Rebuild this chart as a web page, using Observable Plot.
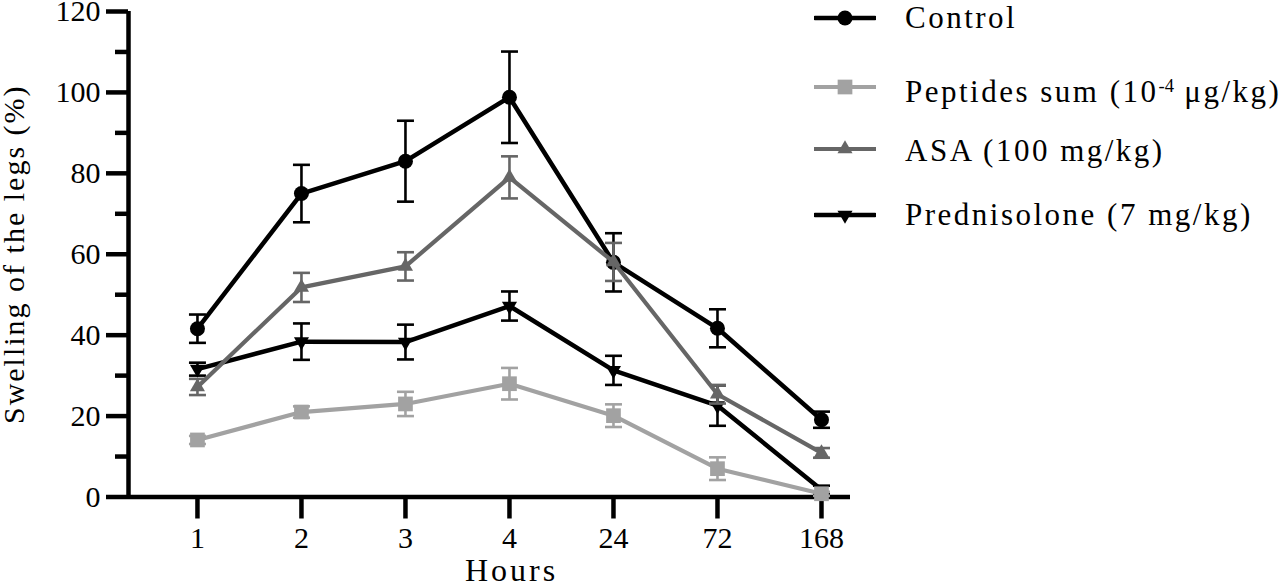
<!DOCTYPE html>
<html>
<head>
<meta charset="utf-8">
<script src="https://cdn.jsdelivr.net/npm/d3@7"></script>
<script src="https://cdn.jsdelivr.net/npm/@observablehq/plot@0.6"></script>
<style>
  html, body { margin: 0; padding: 0; background: #fff; }
  #wrap { position: relative; width: 1280px; height: 586px; overflow: hidden; font-family: "Liberation Serif", serif; }
  .leg-sw { position: absolute; }
  .leg-tx { position: absolute; font-size: 31px; line-height: 30px; letter-spacing: 2.5px; white-space: nowrap; color: #000; }
  .leg-tx sup { font-size: 0.6em; line-height: 0; vertical-align: 0.55em; letter-spacing: 0; }
</style>
</head>
<body>
<div id="wrap"></div>
<script>
// ---- data ----
const hours = ["1", "2", "3", "4", "24", "72", "168"];

const controlMean = [41.6, 75.0, 83.0, 98.8, 58.0, 41.7, 19.1];
const controlErr  = [3.5, 7.1, 10.0, 11.3, 7.2, 4.7, 2.0];

const peptidesMean = [14.1, 21.0, 23.0, 28.0, 20.1, 7.0, 0.8];
const peptidesErr  = [1.0, 1.4, 3.0, 3.9, 2.8, 2.8, 0.5];

const asaMean = [27.2, 51.8, 57.0, 79.0, 58.1, 25.4, 10.9];
const asaErr  = [2.0, 3.6, 3.5, 5.2, 4.7, 2.3, 1.2];

const predMean = [31.6, 38.4, 38.3, 47.2, 31.3, 22.6, 1.8];
const predErr  = [1.6, 4.5, 4.3, 3.6, 3.6, 5.0, 1.0];

const seriesNames = ["Control", "Peptides sum (10-4 μg/kg)", "ASA (100 mg/kg)", "Prednisolone (7 mg/kg)"];
const seriesMeans = [controlMean, peptidesMean, asaMean, predMean];
const seriesErrs  = [controlErr, peptidesErr, asaErr, predErr];

const yMajorTicks = [0, 20, 40, 60, 80, 100, 120];
const yMinorTicks = [10, 30, 50, 70, 90, 110];

// ---- styles ----
const upTriangle = {
  draw(ctx, size) {
    const s3 = Math.sqrt(3);
    const y = -Math.sqrt(size / (s3 * 3));
    ctx.moveTo(0, y * 2); ctx.lineTo(-s3 * y, -y); ctx.lineTo(s3 * y, -y); ctx.closePath();
  }
};
const downTriangle = {
  draw(ctx, size) {
    const s3 = Math.sqrt(3);
    const y = -Math.sqrt(size / (s3 * 3));
    ctx.moveTo(0, -y * 2); ctx.lineTo(-s3 * y, y); ctx.lineTo(s3 * y, y); ctx.closePath();
  }
};
const capSymbol = {
  draw(ctx, size) {
    const r = Math.sqrt(size / Math.PI);
    ctx.moveTo(-r, 0); ctx.lineTo(r, 0);
  }
};
const styles = [
  {color: "#000000", symbol: d3.symbolCircle, r: 7.5, lw: 4.5},
  {color: "#a2a2a2", symbol: d3.symbolSquare, r: 8.3, lw: 4.2},
  {color: "#666666", symbol: upTriangle, r: 5.6, lw: 4.2},
  {color: "#000000", symbol: downTriangle, r: 5.6, lw: 4.5}
];
const drawOrder = [0, 3, 2, 1];

// ---- table ----
const rows = [];
seriesNames.forEach((name, s) => {
  hours.forEach((h, i) => {
    rows.push({s, series: name, i, hour: h, mean: seriesMeans[s][i], err: seriesErrs[s][i]});
  });
});

const xDomain = [-0.663, 6.279];
const axisW = 4.5;
const errW = 2.6;

const marks = [];
marks.push(Plot.ruleY([0], {stroke: "#000", strokeWidth: axisW}));
marks.push(Plot.ruleX([xDomain[0]], {stroke: "#000", strokeWidth: axisW}));
marks.push(Plot.axisY({ticks: yMinorTicks, tickSize: 13, strokeWidth: axisW, tickFormat: () => "", label: null}));
marks.push(Plot.axisY({
  ticks: yMajorTicks, tickSize: 22, tickPadding: 6, strokeWidth: axisW, fontSize: 30,
  label: "Swelling of the legs (%)", labelAnchor: "center", labelArrow: "none", labelOffset: 126
}));
marks.push(Plot.axisX({
  ticks: d3.range(hours.length), tickFormat: (i) => hours[i],
  tickSize: 22, tickPadding: 8, strokeWidth: axisW, fontSize: 30, label: null
}));
marks.push(Plot.text(["Hours"], {frameAnchor: "bottom", dx: 22, dy: 61, lineAnchor: "top", fontSize: 32}));

for (const s of drawOrder) {
  const data = rows.filter((d) => d.s === s);
  const st = styles[s];
  marks.push(Plot.ruleX(data, {x: "i", y1: (d) => d.mean - d.err, y2: (d) => d.mean + d.err, stroke: st.color, strokeWidth: errW}));
  marks.push(Plot.dot(data, {x: "i", y: (d) => d.mean + d.err, symbol: capSymbol, r: 8.5, stroke: st.color, strokeWidth: errW, fill: "none"}));
  marks.push(Plot.dot(data, {x: "i", y: (d) => d.mean - d.err, symbol: capSymbol, r: 8.5, stroke: st.color, strokeWidth: errW, fill: "none"}));
  marks.push(Plot.line(data, {x: "i", y: "mean", stroke: st.color, strokeWidth: st.lw}));
  marks.push(Plot.dot(data, {x: "i", y: "mean", symbol: st.symbol, r: st.r, fill: st.color, stroke: "none"}));
}

const chart = Plot.plot({
  width: 1280,
  height: 586,
  marginLeft: 128,
  marginRight: 430,
  marginTop: 11,
  marginBottom: 89.5,
  style: {fontFamily: "Liberation Serif, serif", background: "#fff", color: "#000", overflow: "visible"},
  x: {type: "linear", domain: xDomain, axis: null},
  y: {type: "linear", domain: [0, 120], axis: null},
  marks
});

const wrap = document.getElementById("wrap");
wrap.appendChild(chart);

// letter spacing on the text to approach the original's wider face
d3.select(chart).selectAll('g[aria-label="y-axis label"] text').style("letter-spacing", "2px");
d3.select(chart).selectAll('g[aria-label="text"] text').style("letter-spacing", "3px");

// ---- legend (HTML overlay) ----
const legendSwatchY = [18, 87, 149, 215];
const legendTextMid = [17.5, 92, 151, 214.5];
const legendLabelsHtml = ["Control", "Peptides sum (10<sup>-4</sup> μg/kg)", "ASA (100 mg/kg)", "Prednisolone (7 mg/kg)"];
seriesNames.forEach((name, s) => {
  const st = styles[s];
  const sw = document.createElementNS("http://www.w3.org/2000/svg", "svg");
  sw.setAttribute("class", "leg-sw");
  sw.setAttribute("width", 62);
  sw.setAttribute("height", 24);
  sw.style.left = "814px";
  sw.style.top = (legendSwatchY[s] - 12) + "px";
  const path = d3.symbol().type(st.symbol).size(Math.PI * st.r * st.r)();
  d3.select(sw).append("line").attr("x1", 1).attr("x2", 61).attr("y1", 12).attr("y2", 12)
    .attr("stroke", st.color).attr("stroke-width", st.lw).attr("stroke-linecap", "round");
  d3.select(sw).append("path").attr("d", path).attr("transform", "translate(31,12)").attr("fill", st.color);
  wrap.appendChild(sw);
  const tx = document.createElement("div");
  tx.className = "leg-tx";
  tx.style.left = "905px";
  tx.style.top = (legendTextMid[s] - 15) + "px";
  tx.innerHTML = legendLabelsHtml[s];
  wrap.appendChild(tx);
});
</script>
</body>
</html>
